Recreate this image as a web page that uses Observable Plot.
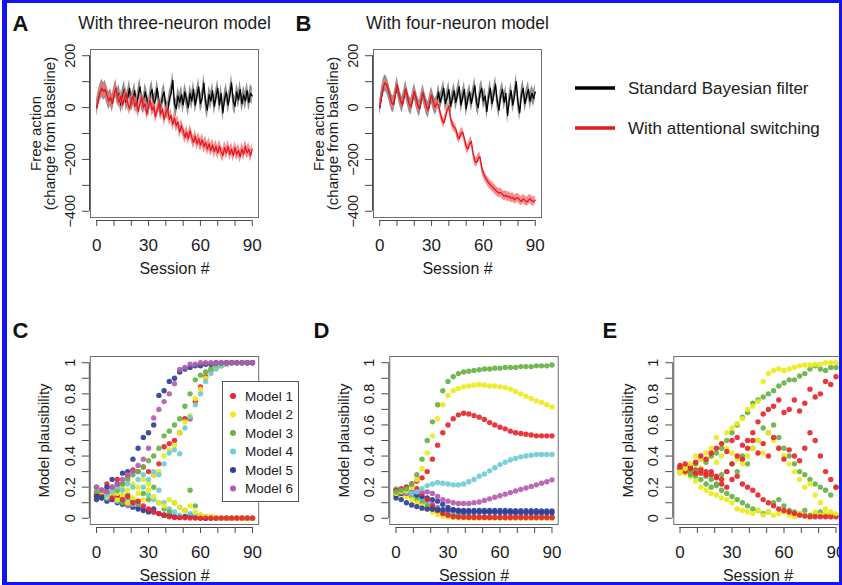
<!DOCTYPE html>
<html>
<head>
<meta charset="utf-8">
<script src="https://cdn.jsdelivr.net/npm/d3@7"></script>
<script src="https://cdn.jsdelivr.net/npm/@observablehq/plot@0.6"></script>
<style>
  html, body { margin: 0; padding: 0; background: #fff; }
  #page { position: relative; width: 842px; height: 585px; overflow: hidden; background: #fff; }
  #border { position: absolute; left: 2px; top: 0; width: 840px; height: 585px; box-sizing: border-box;
            border-style: solid; border-color: #1414f0; border-width: 3px 3px 3px 5px; pointer-events: none; }
</style>
</head>
<body>
<div id="page"></div>
<script>
// ---------------- data ----------------
const sessionsAB = d3.range(0, 91);
const scatterSessions = [0,3,6,9,12,15,18,21,24,27,30,33,36,39,42,45,48,51,54,57,60,63,66,69,72,75,78,81,84,87,90];

const xTicks = [0,10,20,30,40,50,60,70,80,90];
const xLabels = [0,30,60,90];
const yTicksAB = [-400,-300,-200,-100,0,100,200];
const yLabelsAB = [-400,-200,0,200];
const yTicksP = [0,0.1,0.2,0.3,0.4,0.5,0.6,0.7,0.8,0.9,1];
const yLabelsP = [0,0.2,0.4,0.6,0.8,1];

const seriesNames = ["Standard Bayesian filter", "With attentional switching"];
const seriesColors = ["#000000", "#e8161e"];
const bandColors = ["#727272", "#f27474"];
const bandHalfWidthA = [34, 25];
const bandHalfWidthB = [32, 18];

const modelNames = ["Model 1","Model 2","Model 3","Model 4","Model 5","Model 6"];
const modelColors = ["#e8262e","#eeea1c","#66b247","#6dcdd3","#2e3f99","#b55bb0"];

// Panel A: free action, three-neuron model
const aBlack = [0,35,60,75,62,70,45,25,40,15, 50,75,40,55,10,45,70,20,40,75, 15,35,65,5,45,80,25,10,60,35,
  -5,50,70,15,30,75,20,-10,40,60, 5,-15,30,55,105,15,-5,45,20,50, 10,60,30,0,55,25,70,10,45,80,
  15,35,95,20,-10,50,25,65,5,40, 75,10,55,-20,35,60,10,45,95,25, 5,60,30,70,15,50,25,65,20,55, 45];
const aRed = [0,35,60,75,62,70,45,25,40,15, 50,75,40,20,45,10,35,55,15,-5, 30,45,5,20,-15,15,40,0,15,-25,
  5,30,-10,5,-35,-10,15,-25,-5,-45, -20,-5,-45,-30,-65,-40,-70,-55,-95,-70, -90,-115,-95,-120,-90,-115,-135,-110,-140,-120,
  -145,-125,-150,-135,-160,-140,-165,-145,-170,-150, -175,-150,-170,-185,-155,-175,-150,-180,-160,-185,
  -155,-180,-165,-190,-160,-180,-150,-175,-160,-185, -160];

// Panel B: free action, four-neuron model
const bBlack = [0,40,78,95,88,68,40,18,12,48, 88,55,28,10,40,72,42,15,2,32, 62,35,10,-5,28,58,30,5,-10,22,
  48,22,2,15,60,20,45,75,15,40, 70,5,35,65,20,50,80,10,40,70, -5,35,60,15,50,85,20,0,55,75,
  25,45,-15,40,75,15,50,90,25,-10, 45,70,20,55,-30,30,65,10,45,100, 20,-20,50,75,15,45,70,25,55,35, 60];
const bRed = [0,40,78,95,88,68,40,18,12,48, 88,55,28,10,40,72,42,15,2,32, 62,35,10,-5,28,58,30,5,-10,22,
  48,22,2,15,10,-20,-45,-60,-40,-10, 5,-40,-65,-75,-82,-110,-120,-100,-95,-120,
  -150,-160,-140,-130,-175,-205,-212,-195,-190,-230, -255,-268,-280,-290,-298,-305,-312,-318,-325,-330,
  -328,-335,-342,-338,-345,-342,-350,-346,-355,-350, -348,-356,-362,-352,-358,-364,-358,-352,-360,-363, -357];

// Panel C: model plausibility (rising and falling runs per model)
const cRise1 = [.2,.18,.22,.2,.25,.22,.27,.31,.3,.33, .3,.28,.35,.46,.48,.5,.55,.64,.64,.75, .845,.91,.95,.97,.98,.99,1,1,1,1,1];
const cRise2 = [.18,.17,.15,.18,.16,.2,.18,.22,.2,.25, .22,.28,.3,.4,.44,.47,.55,.62,.66,.77, .83,.9,.96,.97,.98,.99,1,1,1,1,1];
const cRise3 = [.17,.18,.16,.2,.18,.22,.25,.28,.3,.33, .37,.4,.45,.53,.56,.6,.64,.72,.8,.89, .92,.94,.96,.98,.99,1,1,1,1,1,1];
const cRise4 = [.2,.18,.15,.17,.2,.18,.22,.2,.25,.28, .25,.3,.28,.35,.42,.44,.415,.58,.65,.73, .8,.88,.93,.96,.98,.99,1,1,1,1,1];
const cRise5 = [.14,.13,.2,.25,.22,.29,.3,.38,.45,.52, .55,.6,.79,.82,.88,.9,.94,.96,.97,.98, .98,.99,.99,1,1,1,1,1,1,1,1];
const cRise6 = [.2,.18,.17,.2,.22,.25,.28,.3,.34,.38, .45,.645,.7,.75,.8,.865,.957,.97,.99,.99, 1,1,1,1,1,1,1,1,1,1,1];
const cLow1 = [.16,.15,.17,.13,.15,.12,.14,.1,.11,.08, .06,.04,.03,.02,.01,.005,.004,.003,.002,.002, .001,.001,.001,.001,.001,.001,.001,.001,.001,.001,.001];
const cLow2 = [.15,.17,.14,.16,.12,.15,.1,.13,.16,.12, .18,.14,.1,.08,.12,.1,.07,.05,.08,.04, .02,.01,.01,.005,0,0,0,0,0,0,0];
const cLow3 = [.14,.13,.16,.18,.12,.1,.15,.12,.09,.16, .12,.2,.1,.06,.04,.1,.07,.05,.18,.08, .02,.01,.01,0,0,0,0,0,0,0,0];
const cLow4 = [.17,.15,.13,.16,.11,.14,.12,.09,.1,.2, .15,.12,.18,.1,.06,.04,.02,.05,.03,.02, .01,.01,0,0,0,0,0,0,0,0,0];
const cLow5 = [.12,.14,.11,.12,.1,.09,.11,.07,.06,.05, .04,.06,.03,.02,.02,.01,.01,.01,.02,.01, .005,0,0,0,0,0,0,0,0,0,0];
const cLow6 = [.15,.18,.13,.12,.14,.1,.08,.11,.07,.06, .05,.04,.03,.02,.02,.01,.01,.01,.01,.005, 0,0,0,0,0,0,0,0,0,0,0];

// Panel D
const dMain1 = [.18,.19,.2,.22,.24,.26,.3,.38,.47,.55, .6,.64,.665,.675,.67,.66,.65,.635,.615,.6, .585,.575,.56,.55,.545,.54,.535,.53,.53,.53,.53];
const dMain2 = [.16,.17,.18,.2,.25,.32,.42,.53,.64,.73, .79,.82,.835,.845,.85,.855,.86,.855,.85,.85, .845,.84,.83,.815,.8,.785,.77,.755,.745,.73,.715];
const dMain3 = [.17,.18,.19,.22,.28,.38,.5,.62,.73,.82, .88,.91,.93,.94,.945,.95,.955,.96,.96,.965, .965,.97,.97,.97,.975,.975,.975,.98,.98,.98,.985];
const dMain4 = [.17,.18,.17,.16,.17,.19,.21,.22,.23,.225, .22,.215,.215,.22,.235,.25,.27,.285,.305,.325, .345,.36,.375,.385,.395,.4,.405,.41,.41,.41,.41];
const dMain5 = [.13,.12,.1,.085,.075,.065,.06,.058,.056,.055, .054,.053,.052,.051,.05,.05,.05,.05,.05,.05, .05,.05,.049,.049,.049,.048,.048,.048,.047,.047,.047];
const dMain6 = [.17,.17,.16,.16,.17,.17,.17,.16,.14,.12, .11,.1,.095,.095,.095,.1,.105,.115,.125,.135, .145,.155,.165,.175,.185,.195,.205,.215,.225,.235,.247];
const dLow1 = [.17,.18,.2,.21,.19,.16,.12,.08,.05,.03, .02,.01,.008,.006,.005,.005,.005,.005,.005,.005, .005,.005,.005,.005,.005,.005,.005,.005,.005,.005,.005];
const dLow2 = [.16,.15,.14,.12,.1,.08,.06,.04,.025,.015, .01,.006,.004,.003,.002,.002,.001,.001,.001,.001, .001,.001,.001,.001,.001,.001,.001,.001,.001,.001,.001];
const dLow3 = [.18,.17,.16,.14,.12,.1,.08,.06,.04,.03, .02,.015,.01,.01,.008,.008,.006,.006,.005,.005, .005,.005,.005,.005,.005,.005,.005,.005,.005,.005,.005];
const dLow4 = [.19,.18,.17,.16,.14,.12,.1,.08,.06,.05, .04,.03,.02,.015,.01,.008,.006,.005,.005,.005, .005,.005,.005,.005,.005,.005,.005,.005,.005,.005,.005];
const dLow5 = [.15,.16,.17,.16,.15,.14,.13,.12,.11,.09, .07,.055,.045,.04,.04,.04,.04,.04,.038,.038, .037,.037,.037,.036,.036,.036,.036,.035,.035,.035,.035];
const dLow6 = [.16,.17,.18,.17,.15,.13,.11,.09,.07,.05, .04,.03,.025,.02,.015,.012,.01,.008,.006,.005, .005,.004,.004,.004,.003,.003,.003,.003,.003,.003,.003];

// Panel E (models 1-3, three runs each)
const eHigh1 = [.33,.35,.32,.36,.4,.38,.42,.45,.48,.43, .5,.52,.47,.5,.55,.62,.67,.7,.72,.76, .68,.7,.76,.69,.74,.83,.78,.8,.88,.86,.91];
const eHigh2 = [.3,.32,.35,.4,.38,.42,.45,.52,.48,.55, .58,.61,.64,.7,.72,.75,.88,.93,.95,.96, .95,.96,.97,.98,.985,.985,.99,.99,1,1,1];
const eHigh3 = [.32,.33,.3,.35,.38,.36,.4,.42,.45,.5, .55,.6,.65,.68,.74,.76,.78,.8,.82,.85, .87,.89,.89,.915,.93,.96,.98,.96,.95,.97,.97];
const eMid1 = [.32,.3,.33,.29,.31,.28,.3,.27,.25,.3, .35,.4,.38,.45,.5,.42,.48,.4,.52,.45, .38,.44,.4,.37,.45,.55,.5,.4,.3,.25,.2];
const eMid2 = [.31,.29,.33,.35,.32,.38,.4,.36,.4,.45, .42,.38,.35,.4,.45,.5,.42,.55,.5,.45, .4,.35,.3,.25,.2,.22,.15,.1,.06,.04,.03];
const eMid3 = [.3,.31,.28,.3,.32,.27,.25,.22,.28,.3, .35,.3,.4,.35,.45,.5,.58,.55,.6,.52, .45,.4,.35,.3,.28,.25,.22,.2,.18,.15,.2];
const eLow1 = [.34,.32,.3,.31,.29,.3,.28,.26,.22,.2, .25,.27,.22,.2,.18,.15,.12,.1,.08,.06, .05,.04,.03,.02,.015,.01,.01,.01,.01,.01,.01];
const eLow2 = [.29,.3,.27,.24,.2,.18,.16,.15,.13,.12, .1,.06,.05,.04,.03,.05,.02,.04,.02,.03, .04,.02,.01,.03,.02,.01,.04,.02,.03,.01,.02];
const eLow3 = [.31,.3,.29,.27,.25,.22,.2,.21,.18,.16, .14,.12,.1,.08,.06,.05,.03,.04,.1,.12, .08,.05,.04,.03,.05,.02,.03,.04,.02,.03,.02];

// ---------------- drawing ----------------
const FONT = '"Liberation Sans", Arial, Helvetica, sans-serif';
const TEXT = "#1c1c1c";
const AXIS = "#4a4a4a";
const BOX = "#6e6e6e";
const X_DOMAIN = [-3.6, 93.6];
const page = document.getElementById("page");

function place(node, left, top, width, height) {
  const wrap = document.createElement("div");
  wrap.style.cssText = `position:absolute;left:${left}px;top:${top}px;width:${width}px;height:${height}px;`;
  wrap.appendChild(node);
  page.appendChild(wrap);
}

const fmtAB = d => d < 0 ? "\u2212" + Math.abs(d) : String(d);
const fmtP = d => String(d);

function panel(cfg) {
  const {left, top, width, height, frame, yDomain, yTicks, yLabels, yFormat, yTitles, title, letter, letterAt, dataMarks} = cfg;
  const [fx0, fy0, fx1, fy1] = frame;
  const svg = Plot.plot({
    width, height,
    marginLeft: fx0, marginTop: fy0, marginRight: width - fx1, marginBottom: height - fy1,
    style: {fontFamily: FONT, color: TEXT, background: "transparent", overflow: "visible"},
    x: {domain: X_DOMAIN},
    y: {domain: yDomain},
    marks: [
      ...dataMarks,
      Plot.frame({stroke: BOX, strokeWidth: 1}),
      Plot.axisX({ticks: xTicks, tickSize: 6, tickFormat: () => "", label: null, dy: 3, stroke: AXIS}),
      Plot.ruleY([yDomain[0]], {x1: xTicks[0], x2: xTicks[xTicks.length - 1], dy: 3, stroke: AXIS}),
      Plot.text(xLabels, {x: d => d, frameAnchor: "bottom", dy: 28, text: d => String(d), fontSize: 17, lineAnchor: "middle", fill: TEXT}),
      Plot.text(["Session #"], {frameAnchor: "bottom", dy: 51, fontSize: 16, lineAnchor: "middle", fill: TEXT}),
      Plot.axisY({ticks: yTicks, tickSize: 7, tickFormat: () => "", label: null, dx: -1, stroke: AXIS}),
      Plot.ruleX([X_DOMAIN[0]], {y1: yTicks[0], y2: yTicks[yTicks.length - 1], dx: -1, stroke: AXIS}),
      Plot.text(yLabels, {y: d => d, frameAnchor: "left", dx: -20, rotate: -90, text: yFormat, fontSize: 14.5, lineAnchor: "middle", textAnchor: "middle", fill: TEXT}),
      ...yTitles.map(([t, dx]) => Plot.text([t], {frameAnchor: "left", dx, rotate: -90, fontSize: 15, lineAnchor: "middle", textAnchor: "middle", fill: TEXT})),
      ...(title ? [Plot.text([title], {frameAnchor: "top", dy: -21, fontSize: 17.5, lineAnchor: "bottom", fill: TEXT})] : []),
      Plot.text([letter], {frameAnchor: "top-left", dx: letterAt[0] - fx0, dy: letterAt[1] - fy0, fontSize: 22, fontWeight: "bold", textAnchor: "start", lineAnchor: "bottom", fill: "#111"})
    ]
  });
  place(svg, left, top, width, height);
}

function bandMarks(values, hw, lineColor, bandColor) {
  return [
    Plot.areaY(values, {x: sessionsAB, y1: d => d - hw, y2: d => d + hw, fill: bandColor, fillOpacity: 0.8}),
    Plot.lineY(values, {x: sessionsAB, y: d => d, stroke: lineColor, strokeWidth: 1.3})
  ];
}
const dots = (vals, color) => Plot.dot(vals, {x: scatterSessions, y: d => d, r: 2.7, fill: color, fillOpacity: 0.92});

const freeActionTitles = [["Free action", -54], ["(change from baseline)", -40]];
const plausTitles = [["Model plausibility", -46]];
const yDomainAB = [-424, 224];
const yDomainP = [-0.04, 1.04];

// A
panel({
  left: 0, top: 0, width: 290, height: 290, frame: [90, 49, 258, 217],
  yDomain: yDomainAB, yTicks: yTicksAB, yLabels: yLabelsAB, yFormat: fmtAB, yTitles: freeActionTitles,
  title: "With three-neuron model", letter: "A", letterAt: [12, 30],
  dataMarks: [
    ...bandMarks(aBlack, bandHalfWidthA[0], seriesColors[0], bandColors[0]),
    ...bandMarks(aRed, bandHalfWidthA[1], seriesColors[1], bandColors[1])
  ]
});

// B
panel({
  left: 290, top: 0, width: 270, height: 290, frame: [83, 49, 251, 217],
  yDomain: yDomainAB, yTicks: yTicksAB, yLabels: yLabelsAB, yFormat: fmtAB, yTitles: freeActionTitles,
  title: "With four-neuron model", letter: "B", letterAt: [5, 30],
  dataMarks: [
    ...bandMarks(bBlack, bandHalfWidthB[0], seriesColors[0], bandColors[0]),
    ...bandMarks(bRed, bandHalfWidthB[1], seriesColors[1], bandColors[1])
  ]
});

// C
const cLows = [cLow1, cLow2, cLow3, cLow4, cLow5, cLow6];
const cRises = [cRise1, cRise2, cRise3, cRise4, cRise5, cRise6];
panel({
  left: 0, top: 300, width: 300, height: 285, frame: [89.8, 56, 258.2, 224],
  yDomain: yDomainP, yTicks: yTicksP, yLabels: yLabelsP, yFormat: fmtP, yTitles: plausTitles,
  title: null, letter: "C", letterAt: [12, 37],
  dataMarks: [
    ...[5,4,3,2,1,0].map(i => dots(cLows[i], modelColors[i])),
    ...[0,1,2,3,4,5].map(i => dots(cRises[i], modelColors[i]))
  ]
});

// D
const dLows = [dLow1, dLow2, dLow3, dLow4, dLow5, dLow6];
const dMains = [dMain1, dMain2, dMain3, dMain4, dMain5, dMain6];
panel({
  left: 300, top: 300, width: 280, height: 285, frame: [89.3, 56, 257.7, 224],
  yDomain: yDomainP, yTicks: yTicksP, yLabels: yLabelsP, yFormat: fmtP, yTitles: plausTitles,
  title: null, letter: "D", letterAt: [13, 37],
  dataMarks: [
    ...[5,3,2,1,4,0].map(i => dots(dLows[i], modelColors[i])),
    ...[5,4,3,0,1,2].map(i => dots(dMains[i], modelColors[i]))
  ]
});

// E
const eRuns = [[eLow1, eMid1, eHigh1], [eLow2, eMid2, eHigh2], [eLow3, eMid3, eHigh3]];
panel({
  left: 580, top: 300, width: 262, height: 285, frame: [93.3, 56, 261.7, 224],
  yDomain: yDomainP, yTicks: yTicksP, yLabels: yLabelsP, yFormat: fmtP, yTitles: plausTitles,
  title: null, letter: "E", letterAt: [22, 37],
  dataMarks: [0,1,2].flatMap(r => [2,1,0].map(m => dots(eRuns[m][r], modelColors[m])))
});

// legends
function svgEl(w, h, left, top) {
  const svg = d3.create("svg").attr("width", w).attr("height", h)
    .style("position", "absolute").style("left", left + "px").style("top", top + "px")
    .style("overflow", "visible").style("font-family", FONT);
  page.appendChild(svg.node());
  return svg;
}

const topLegend = svgEl(262, 80, 570, 70);
seriesNames.forEach((name, i) => {
  const y = 18 + i * 40;
  topLegend.append("line").attr("x1", 5).attr("x2", 45).attr("y1", y).attr("y2", y)
    .attr("stroke", seriesColors[i]).attr("stroke-width", 3.5);
  topLegend.append("text").attr("x", 58).attr("y", y).attr("dy", "0.35em")
    .attr("font-size", 17).attr("fill", TEXT).text(name);
});

const cLegend = svgEl(80, 124, 221, 380);
cLegend.append("rect").attr("x", 1.5).attr("y", 1.5).attr("width", 76).attr("height", 120)
  .attr("fill", "#fff").attr("stroke", "#555");
modelNames.forEach((m, i) => {
  const y = 16 + i * 18.5;
  cLegend.append("circle").attr("cx", 12).attr("cy", y).attr("r", 3).attr("fill", modelColors[i]);
  cLegend.append("text").attr("x", 24).attr("y", y).attr("dy", "0.35em")
    .attr("font-size", 13.5).attr("fill", TEXT).text(m);
});

const border = document.createElement("div");
border.id = "border";
page.appendChild(border);
</script>
</body>
</html>
